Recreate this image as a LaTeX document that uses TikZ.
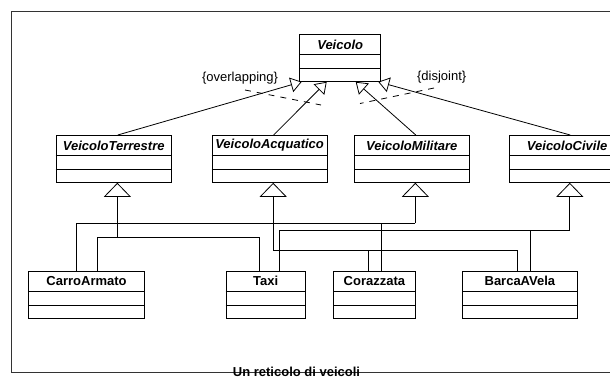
\documentclass[tikz,border=0pt]{standalone}
\usepackage{fontspec}
\setmainfont{Liberation Sans}
\usetikzlibrary{arrows.meta}
\tikzset{
  lbl/.style={font=\fontsize{13}{15}\selectfont\bfseries, inner sep=0pt},
  abs/.style={font=\fontsize{13}{15}\selectfont\bfseries\itshape, inner sep=0pt},
  txt/.style={font=\fontsize{13}{15}\selectfont, inner sep=0pt},
  cls/.style={draw, line width=0.8pt, minimum height=47pt, inner sep=0pt, anchor=north west},
  conn/.style={line width=0.8pt},
  gen/.style={conn, -{Triangle[open,length=11pt,width=15pt]}},
  genbig/.style={conn, -{Triangle[open,length=14pt,width=27pt]}},
  constr/.style={conn, dash pattern=on 6pt off 6pt},
  framebox/.style={line width=1pt, black!80},
}
\newcommand\umlbox[6]{%
  \node[cls, minimum width=#4pt] (#1) at (#2,#3) {};
  \draw[conn] ([yshift=-20.7pt]#1.north west) -- ([yshift=-20.7pt]#1.north east)
              ([yshift=-34.4pt]#1.north west) -- ([yshift=-34.4pt]#1.north east);
  \node[#5] (#1-name) at ([yshift=-10.5pt]#1.north) {#6};
}
\begin{document}
\begin{tikzpicture}[x=1pt,y=-1pt]
\useasboundingbox (0,0) rectangle (610,378);
\clip (0,0) rectangle (610,378);
\fill[white] (0,0) rectangle (610,378);
% frame
\draw[framebox] (11,11.7) rectangle (640,372.7);
\node[lbl, anchor=base] (title) at (296.5,376) {Un reticolo di veicoli};
% classes
\umlbox{v}{299.3}{34}{81}{abs}{Veicolo}
\umlbox{vt}{55.7}{135}{115.3}{abs}{VeicoloTerrestre}
\umlbox{va}{211.7}{135}{115}{abs}{VeicoloAcquatico}
\umlbox{vm}{354}{135}{114.7}{abs}{VeicoloMilitare}
\umlbox{vc}{509.3}{135}{115}{abs}{VeicoloCivile}
\umlbox{ca}{28.3}{270.7}{115.7}{lbl}{CarroArmato}
\umlbox{tx}{225.7}{270.7}{79.3}{lbl}{Taxi}
\umlbox{cz}{333.3}{270.7}{81.4}{lbl}{Corazzata}
\umlbox{bv}{462.3}{270.7}{114.4}{lbl}{BarcaAVela}
% generalizations to Veicolo
\draw[gen] ([xshift=4pt]vt.north) -- ([xshift=-38.5pt]v.south);
\draw[gen] ([xshift=4pt]va.north) -- ([xshift=-13.5pt]v.south);
\draw[gen] ([xshift=4pt]vm.north) -- ([xshift=15.5pt]v.south);
\draw[gen] ([xshift=3pt]vc.north) -- ([xshift=38pt]v.south);
% constraints
\node[txt] (ov) at (240,78.5) {\{overlapping\}};
\node[txt] (dj) at (441.7,77) {\{disjoint\}};
\coordinate (ov1) at (245,90);
\coordinate (ov2) at (321,105);
\coordinate (dj1) at (434,88);
\coordinate (dj2) at (360,103.5);
\draw[constr] (ov1) -- (ov2);
\draw[constr] (dj1) -- (dj2);
% lower generalizations
\coordinate (jT) at (117.35,237.3);
\draw[conn] ([xshift=10.5pt]ca.north) |- (jT) -| ([xshift=-6.3pt]tx.north);
\draw[genbig] (jT) -- (jT |- vt.south);
\coordinate (jM) at (415.35,223.3);
\draw[conn] ([xshift=-10.2pt]ca.north) |- (jM);
\draw[conn] ([xshift=6.7pt]cz.north) |- (jM);
\draw[genbig] (jM) -- (jM |- vm.south);
\coordinate (jC) at (569.8,230);
\draw[conn] ([xshift=14pt]tx.north) |- (jC);
\draw[conn] ([xshift=10.3pt]bv.north) |- (jC);
\draw[genbig] (jC) -- (jC |- vc.south);
\coordinate (jA) at (273.2,250);
\draw[conn] ([xshift=-2.8pt]bv.north) |- (jA);
\draw[conn] ([xshift=-6.3pt]cz.north) |- (jA);
\draw[genbig] (jA) -- (jA |- va.south);
\end{tikzpicture}
\end{document}
